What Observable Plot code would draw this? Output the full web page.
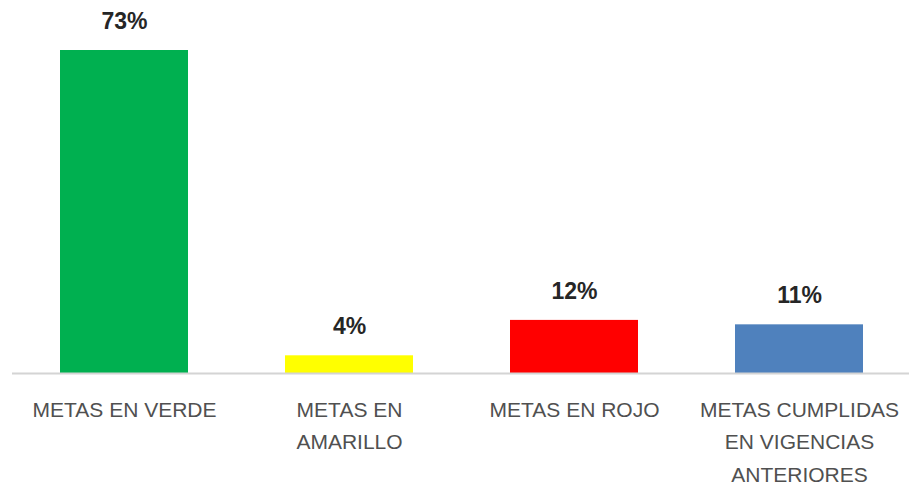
<!DOCTYPE html>
<html>
<head>
<meta charset="utf-8">
<script src="https://cdn.jsdelivr.net/npm/d3@7"></script>
<script src="https://cdn.jsdelivr.net/npm/@observablehq/plot@0.6"></script>
<style>
  html, body { margin: 0; padding: 0; background: #ffffff; overflow: hidden; }
  #chart { width: 909px; height: 486px; overflow: hidden; }
</style>
</head>
<body>
<div id="chart"></div>
<script>
const categories = ["METAS EN VERDE", "METAS EN\nAMARILLO", "METAS EN ROJO", "METAS CUMPLIDAS\nEN VIGENCIAS\nANTERIORES"];
const values = [73, 4, 12, 11];
const valueLabels = ["73%", "4%", "12%", "11%"];
const colors = ["#00b050", "#ffff00", "#ff0000", "#4f81bd"];

const data = categories.map((c, i) => ({cat: c, value: values[i], label: valueLabels[i], color: colors[i]}));

const chart = Plot.plot({
  width: 909,
  height: 486,
  marginTop: 50,
  marginBottom: 113,
  marginLeft: 12,
  marginRight: -3,
  style: {fontFamily: "'Liberation Sans', Arial, sans-serif", background: "#ffffff"},
  x: {domain: categories, paddingInner: 0.43, paddingOuter: 0.215, axis: null},
  y: {domain: [0, 73], axis: null},
  marks: [
    Plot.barY(data, {x: "cat", y: "value", fill: d => d.color}),
    Plot.ruleY([0], {stroke: "#d4d4d4", strokeWidth: 2}),
    Plot.text(data, {x: "cat", y: "value", text: "label", dy: -29, fontSize: 23, fontWeight: "bold", fill: "#262626"}),
    Plot.text(data, {x: "cat", frameAnchor: "bottom", text: "cat", lineAnchor: "top", dy: 21, lineHeight: 1.53, fontSize: 21, fill: "#505050"})
  ]
});
document.getElementById("chart").appendChild(chart);
</script>
</body>
</html>
